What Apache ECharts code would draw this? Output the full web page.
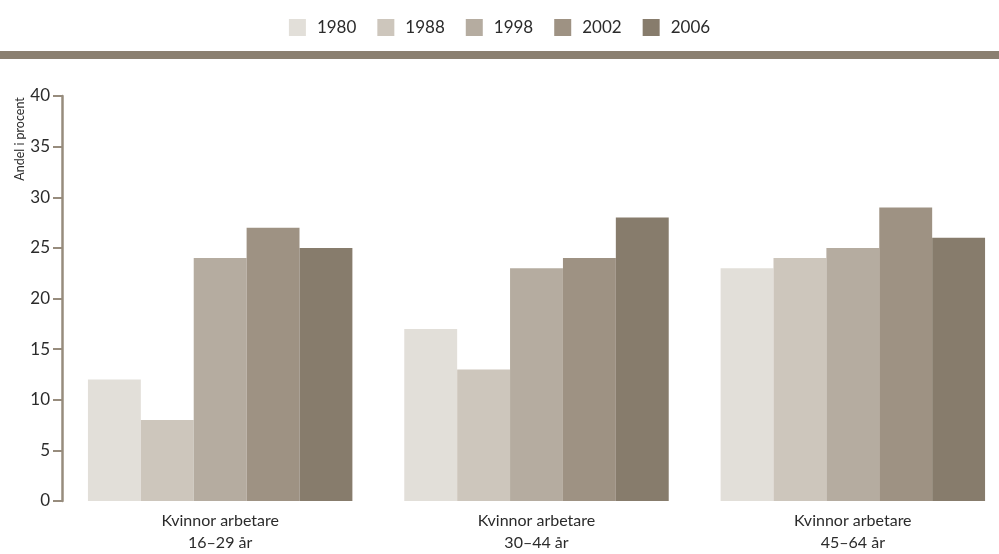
<!DOCTYPE html>
<html>
<head>
<meta charset="utf-8">
<script src="https://cdn.jsdelivr.net/npm/echarts@6/dist/echarts.min.js"></script>
<style>
  html, body { margin: 0; padding: 0; background: #fff; }
  #chart { width: 999px; height: 554px; }
</style>
</head>
<body>
<div id="chart"></div>
<script>
// Groups of women workers by age band
const categories = ['Kvinnor arbetare\n16–29 år', 'Kvinnor arbetare\n30–44 år', 'Kvinnor arbetare\n45–64 år'];
const years = ['1980', '1988', '1998', '2002', '2006'];
const values1980 = [12, 17, 23];
const values1988 = [8, 13, 24];
const values1998 = [24, 23, 25];
const values2002 = [27, 24, 29];
const values2006 = [25, 28, 26];
const yTicks = [0, 5, 10, 15, 20, 25, 30, 35, 40];
const yAxisTitle = 'Andel i procent';

const seriesValues = [values1980, values1988, values1998, values2002, values2006];
const colors = ['#e2dfd9', '#cdc6bc', '#b5aca0', '#9e9283', '#877c6c'];
const axisColor = '#978c7d';
const textColor = '#2b2b2b';
const font = 'Lato, "Open Sans", sans-serif';

const chart = echarts.init(document.getElementById('chart'));
chart.setOption({
  animation: false,
  color: colors,
  textStyle: { fontFamily: font },
  legend: {
    top: 14,
    left: 'center',
    itemWidth: 17,
    itemHeight: 17,
    itemGap: 21,
    icon: 'rect',
    textStyle: { fontSize: 17, color: textColor, fontFamily: font, padding: [0, 0, 0, 6] },
    data: years
  },
  graphic: [
    {
      type: 'rect',
      left: 0,
      top: 51,
      shape: { width: 999, height: 8 },
      style: { fill: '#8a7f70' }
    },
    {
      type: 'text',
      x: 20,
      y: 139,
      rotation: Math.PI / 2,
      style: {
        text: yAxisTitle,
        fontSize: 12.5,
        fontFamily: font,
        fill: textColor,
        align: 'center',
        verticalAlign: 'middle'
      }
    }
  ],
  // the last group runs close to the right edge, so the plot box is allowed past it
  grid: { left: 62, width: 949, top: 96, height: 405, containLabel: false, outerBoundsMode: 'none' },
  xAxis: {
    type: 'category',
    data: categories,
    axisLine: { show: false },
    axisTick: { show: false },
    axisLabel: { color: textColor, fontSize: 16, lineHeight: 22, margin: 9, fontFamily: font }
  },
  yAxis: {
    type: 'value',
    min: yTicks[0],
    max: yTicks[yTicks.length - 1],
    interval: 5,
    axisLine: { show: true, lineStyle: { color: axisColor, width: 2.5 } },
    axisTick: { show: true, length: 9, lineStyle: { color: axisColor, width: 2 } },
    axisLabel: { color: textColor, fontSize: 17, margin: 12, fontFamily: font },
    splitLine: { show: false }
  },
  series: years.map((y, i) => ({
    name: y,
    type: 'bar',
    data: seriesValues[i],
    barGap: '0%',
    barCategoryGap: '16.4%',
    itemStyle: { color: colors[i] }
  }))
});
</script>
</body>
</html>
